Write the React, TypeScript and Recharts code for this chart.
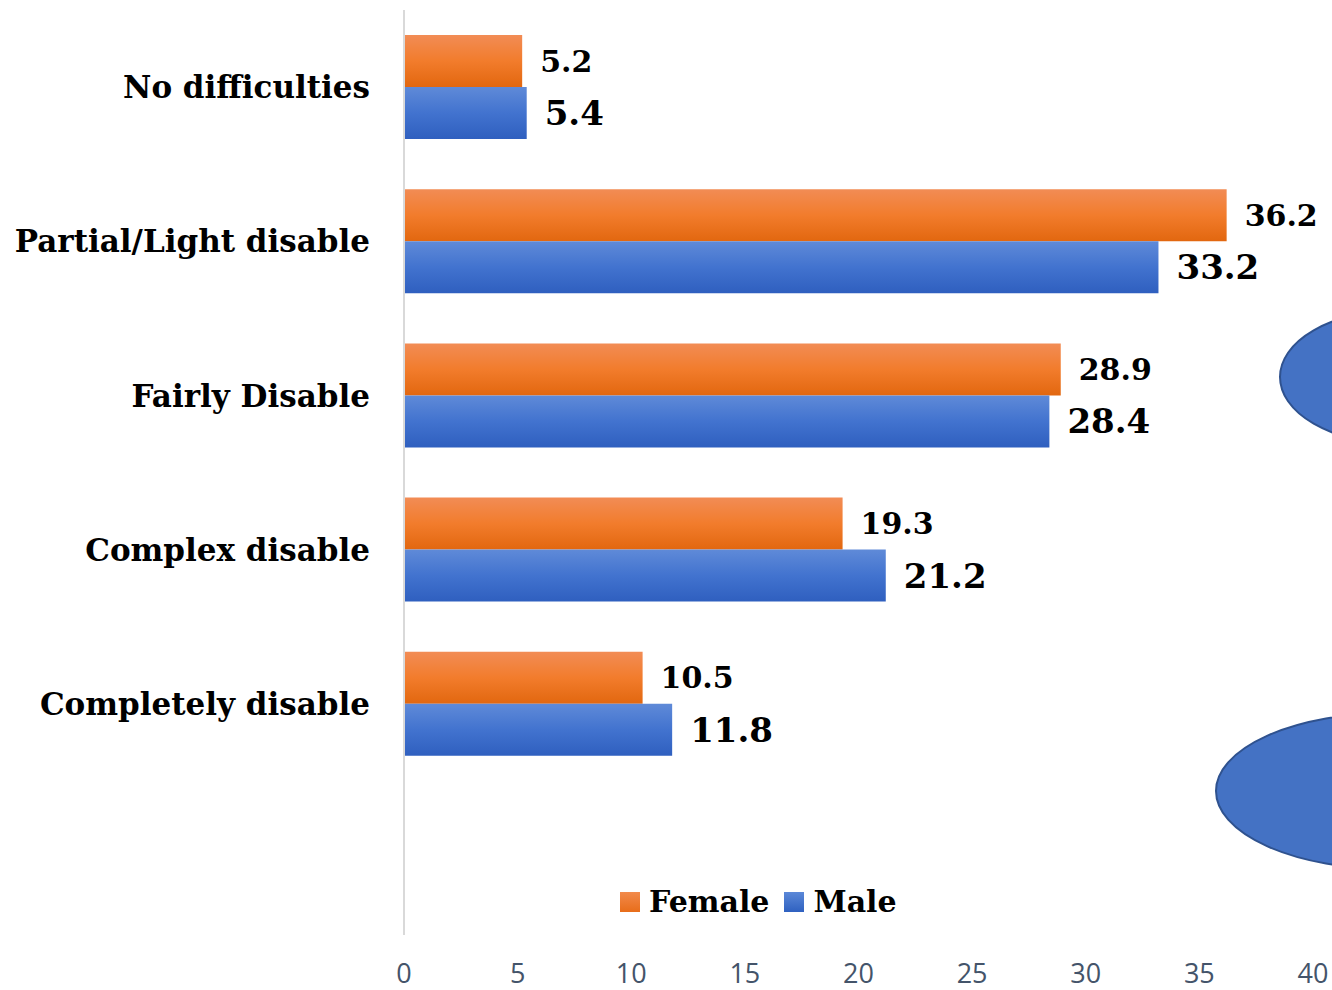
import { BarChart, Bar, XAxis, YAxis, LabelList, Legend } from 'recharts';

// Categories and series values
const categories = ['No difficulties', 'Partial/Light disable', 'Fairly Disable', 'Complex disable', 'Completely disable'];
const femaleValues = [5.2, 36.2, 28.9, 19.3, 10.5];
const maleValues = [5.4, 33.2, 28.4, 21.2, 11.8];
const xTicks = [0, 5, 10, 15, 20, 25, 30, 35, 40];

const data = categories.map((name, i) => ({ name, female: femaleValues[i], male: maleValues[i] }));

const SERIF = '"DejaVu Serif", "Liberation Serif", serif';

const renderLegend = () => (
    <div style={{ display: 'flex', alignItems: 'center', fontFamily: SERIF, fontWeight: 700, fontSize: 30, color: '#000', lineHeight: '40px' }}>
        <span style={{ width: 20, height: 20, background: 'linear-gradient(#F28A4C, #E86D1A)', marginRight: 9 }} />
        <span style={{ marginRight: 15 }}>Female</span>
        <span style={{ width: 20, height: 20, background: 'linear-gradient(#5B88D8, #2F61C0)', marginRight: 9 }} />
        <span>Male</span>
    </div>
);

export default function App() {
    return (
        <div style={{ position: 'absolute', left: 0, top: 0, width: 1332, height: 990, background: '#fff', overflow: 'hidden' }}>
            <BarChart
                width={1332}
                height={990}
                data={data}
                layout="vertical"
                margin={{ top: 10, right: 19, left: 0, bottom: 0 }}
                barGap={0}
            >
                <defs>
                    <linearGradient id="gradFemale" x1="0" y1="0" x2="0" y2="1">
                        <stop offset="0%" stopColor="#F28C55" />
                        <stop offset="50%" stopColor="#F27C2C" />
                        <stop offset="100%" stopColor="#E2670F" />
                    </linearGradient>
                    <linearGradient id="gradMale" x1="0" y1="0" x2="0" y2="1">
                        <stop offset="0%" stopColor="#5F8AD8" />
                        <stop offset="50%" stopColor="#4273CF" />
                        <stop offset="100%" stopColor="#2F5FBF" />
                    </linearGradient>
                </defs>
                <XAxis
                    type="number"
                    domain={[0, 40]}
                    ticks={xTicks}
                    axisLine={false}
                    tickLine={false}
                    height={55}
                    tickMargin={23}
                    tick={{ fontSize: 27, fill: '#44546A', fontFamily: '"Open Sans", "Liberation Sans", sans-serif' }}
                />
                <YAxis
                    type="category"
                    dataKey="name"
                    width={404}
                    padding={{ top: 0, bottom: 154 }}
                    axisLine={{ stroke: '#D9D9D9', strokeWidth: 2 }}
                    tickLine={false}
                    tickSize={0}
                    tickMargin={34}
                    tick={{ fontSize: 31, fill: '#000', fontWeight: 700, fontFamily: SERIF }}
                />
                <Legend
                    content={renderLegend}
                    layout="horizontal"
                    verticalAlign="middle"
                    align="center"
                    wrapperStyle={{ left: 620, top: 882, width: 320, height: 40 }}
                />
                <Bar dataKey="female" name="Female" fill="url(#gradFemale)" barSize={52} isAnimationActive={false}>
                    <LabelList
                        dataKey="female"
                        position="right"
                        offset={18}
                        style={{ fontSize: 30, fontWeight: 700, fill: '#000', fontFamily: SERIF }}
                    />
                </Bar>
                <Bar dataKey="male" name="Male" fill="url(#gradMale)" barSize={52} isAnimationActive={false}>
                    <LabelList
                        dataKey="male"
                        position="right"
                        offset={18}
                        style={{ fontSize: 34, fontWeight: 700, fill: '#000', fontFamily: SERIF }}
                    />
                </Bar>
            </BarChart>
            {/* decorative shapes cut off at the right edge */}
            <svg width={1332} height={990} style={{ position: 'absolute', left: 0, top: 0, pointerEvents: 'none' }}>
                <ellipse cx={1395} cy={377} rx={115} ry={66} fill="#4472C4" stroke="#2F528F" strokeWidth={2} />
                <ellipse cx={1390} cy={791} rx={174} ry={78} fill="#4472C4" stroke="#2F528F" strokeWidth={2} />
            </svg>
        </div>
    );
}
